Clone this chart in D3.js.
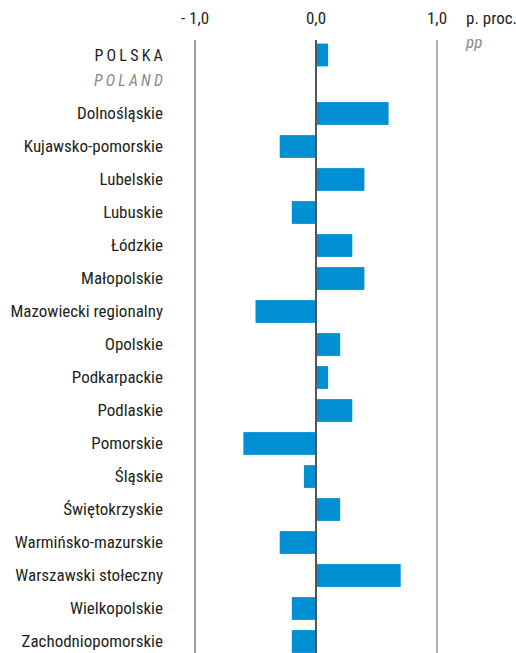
<!DOCTYPE html>
<html>
<head>
<meta charset="utf-8">
<script src="https://cdn.jsdelivr.net/npm/d3@7"></script>
<style>
  body { margin: 0; background: #fff; }
  text { font-family: "Liberation Sans Narrow", "Roboto Condensed", "DejaVu Sans Condensed", sans-serif; fill: #231f20; }
</style>
</head>
<body>
<div id="chart"></div>
<script>
// Data
const regions = ["Dolnośląskie", "Kujawsko-pomorskie", "Lubelskie", "Lubuskie", "Łódzkie",
  "Małopolskie", "Mazowiecki regionalny", "Opolskie", "Podkarpackie", "Podlaskie", "Pomorskie",
  "Śląskie", "Świętokrzyskie", "Warmińsko-mazurskie", "Warszawski stołeczny", "Wielkopolskie",
  "Zachodniopomorskie"];
const values = [0.6, -0.3, 0.4, -0.2, 0.3, 0.4, -0.5, 0.2, 0.1, 0.3, -0.6, -0.1, 0.2, -0.3, 0.7, -0.2, -0.2];
const polskaValue = 0.1;
const tickValues = [-1, 0, 1];
const tickLabels = ["- 1,0", "0,0", "1,0"];

const width = 516, height = 653;

const svg = d3.select("#chart")
  .append("svg")
  .attr("width", width)
  .attr("height", height);

// Scales
const x = d3.scaleLinear()
  .domain([-1, 1])
  .range([195, 437]);

const y = d3.scaleBand()
  .domain(regions)
  .range([97, 97 + regions.length * 33])
  .paddingInner(0.31)
  .paddingOuter(0.155);

const polskaY = y(regions[0]) - 58.5;

// Grid lines
svg.selectAll("line.grid")
  .data(tickValues)
  .join("line")
  .attr("class", "grid")
  .attr("x1", d => x(d))
  .attr("x2", d => x(d))
  .attr("y1", 40)
  .attr("y2", height)
  .attr("stroke", d => d === 0 ? "#555" : (d > 0 ? "#9a9a9a" : "#808080"))
  .attr("stroke-width", d => d === 0 ? 2 : 1.5);

// Tick labels
svg.selectAll("text.tick")
  .data(tickValues)
  .join("text")
  .attr("class", "tick")
  .attr("x", d => x(d))
  .attr("y", 24)
  .attr("text-anchor", "middle")
  .style("font-size", "17px")
  .text((d, i) => tickLabels[i]);

svg.append("text")
  .attr("x", 466)
  .attr("y", 24)
  .style("font-size", "17px")
  .text("p. proc.");

svg.append("text")
  .attr("x", 466)
  .attr("y", 48)
  .style("font-size", "17px")
  .style("font-style", "italic")
  .style("fill", "#8a8a8a")
  .text("pp");

// Bars
svg.selectAll("rect.bar")
  .data(regions)
  .join("rect")
  .attr("class", "bar")
  .attr("x", (d, i) => x(Math.min(0, values[i])))
  .attr("y", d => y(d))
  .attr("width", (d, i) => Math.abs(x(values[i]) - x(0)))
  .attr("height", y.bandwidth())
  .attr("fill", "#008fd3");

svg.append("rect")
  .attr("x", x(0))
  .attr("y", polskaY)
  .attr("width", x(polskaValue) - x(0))
  .attr("height", y.bandwidth())
  .attr("fill", "#008fd3");

// Zero line on top of bars
svg.append("line")
  .attr("x1", x(0)).attr("x2", x(0))
  .attr("y1", 40).attr("y2", height)
  .attr("stroke", "#555")
  .attr("stroke-width", 2);

// Region labels
svg.selectAll("text.label")
  .data(regions)
  .join("text")
  .attr("class", "label")
  .attr("x", 163)
  .attr("y", d => y(d) + y.bandwidth() / 2)
  .attr("dy", "0.35em")
  .attr("text-anchor", "end")
  .style("font-size", "17px")
  .text(d => d);

svg.append("text")
  .attr("x", 166)
  .attr("y", polskaY + y.bandwidth() / 2)
  .attr("dy", "0.35em")
  .attr("text-anchor", "end")
  .style("font-size", "16px")
  .style("letter-spacing", "3.2px")
  .text("POLSKA");

svg.append("text")
  .attr("x", 166)
  .attr("y", polskaY + y.bandwidth() / 2 + 25)
  .attr("dy", "0.35em")
  .attr("text-anchor", "end")
  .style("font-size", "16px")
  .style("font-style", "italic")
  .style("letter-spacing", "3.2px")
  .style("fill", "#8a8a8a")
  .text("POLAND");
</script>
</body>
</html>
